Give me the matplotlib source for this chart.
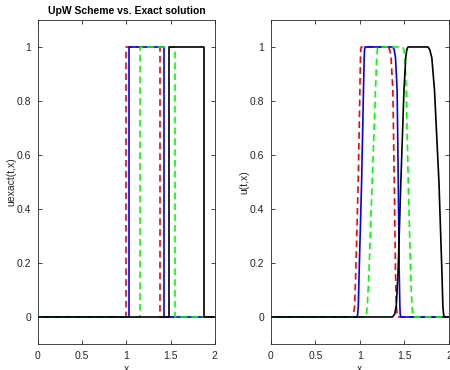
import matplotlib
matplotlib.use("Agg")
import matplotlib.pyplot as plt

# exact solutions (step profiles)
ex_red_x = [0, 0.99, 0.99, 1.38, 1.38, 2]
ex_blue_x = [0, 1.03, 1.03, 1.43, 1.43, 2]
ex_green_x = [0, 1.15, 1.15, 1.55, 1.55, 2]
ex_black_x = [0, 1.48, 1.48, 1.88, 1.88, 2]
ex_y = [0, 0, 1, 1, 0, 0]

# upwind solutions
uw_y = [0, 0, 0.01, 0.04, 0.16, 0.5, 0.84, 0.96, 0.99, 1, 1, 0.99, 0.96, 0.84, 0.5, 0.16, 0.04, 0.01, 0, 0]
uw_red_x = [0, 0.915, 0.928, 0.94, 0.953, 0.981, 1.0, 1.006, 1.009, 1.015,
	1.32, 1.335, 1.35, 1.37, 1.386, 1.40, 1.41, 1.417, 1.425, 2]
uw_blue_x = [0, 0.965, 0.975, 0.982, 0.991, 1.019, 1.04, 1.048, 1.052, 1.058,
	1.37, 1.385, 1.40, 1.418, 1.431, 1.442, 1.449, 1.453, 1.46, 2]
uw_green_x = [0, 1.06, 1.072, 1.083, 1.101, 1.138, 1.175, 1.188, 1.195, 1.203,
	1.48, 1.495, 1.505, 1.52, 1.543, 1.57, 1.585, 1.593, 1.60, 2]
uw_black_x = [0, 1.365, 1.39, 1.408, 1.428, 1.46, 1.495, 1.515, 1.527, 1.54,
	1.765, 1.785, 1.808, 1.838, 1.888, 1.922, 1.932, 1.94, 1.95, 2]

xt = [0, 0.5, 1, 1.5, 2]
xtl = ["0", "0.5", "1", "1.5", "2"]
yt = [0, 0.2, 0.4, 0.6, 0.8, 1]
ytl = ["0", "0.2", "0.4", "0.6", "0.8", "1"]

plt.rcParams['font.family'] = ['Liberation Sans', 'DejaVu Sans']

fig = plt.figure(figsize=(4.5, 3.7), dpi=100)
ax1 = fig.add_axes([0.0844, 0.0703, 0.393, 0.8757])
ax2 = fig.add_axes([0.602, 0.0703, 0.3956, 0.8757])

lw = 1.2
dash = (4, 2.5)

ax1.plot(ex_red_x, ex_y, color="#ff0000", lw=lw, dashes=dash)
ax1.plot(ex_blue_x, ex_y, color="#0000ff", lw=lw)
ax1.plot(ex_green_x, ex_y, color="#00ff00", lw=lw, dashes=dash)
ax1.plot(ex_black_x, ex_y, color="black", lw=lw)

ax2.plot(uw_red_x, uw_y, color="#ff0000", lw=lw, dashes=dash)
ax2.plot(uw_blue_x, uw_y, color="#0000ff", lw=lw)
ax2.plot(uw_green_x, uw_y, color="#00ff00", lw=lw, dashes=dash)
ax2.plot(uw_black_x, uw_y, color="black", lw=lw)

for ax in (ax1, ax2):
	ax.set_xlim(0, 2)
	ax.set_ylim(-0.1, 1.1)
	ax.set_xticks(xt, xtl)
	ax.set_yticks(yt, ytl)
	ax.tick_params(direction="in", length=3, width=0.6, labelsize=7.5, colors="#262626",
		top=True, right=True, pad=5)
	for s in ax.spines.values():
		s.set_linewidth(0.6)
		s.set_color("#262626")
	ax.set_xlabel("x", fontsize=7.5, color="#262626", labelpad=2)

ax1.set_ylabel("uexact(t,x)", fontsize=7.5, color="#262626", labelpad=0)
ax2.set_ylabel("u(t,x)", fontsize=7.5, color="#262626", labelpad=0)
ax1.set_title("UpW Scheme vs. Exact solution", fontsize=7.5, fontweight="bold", pad=4)

plt.savefig("out.png", dpi=100)
